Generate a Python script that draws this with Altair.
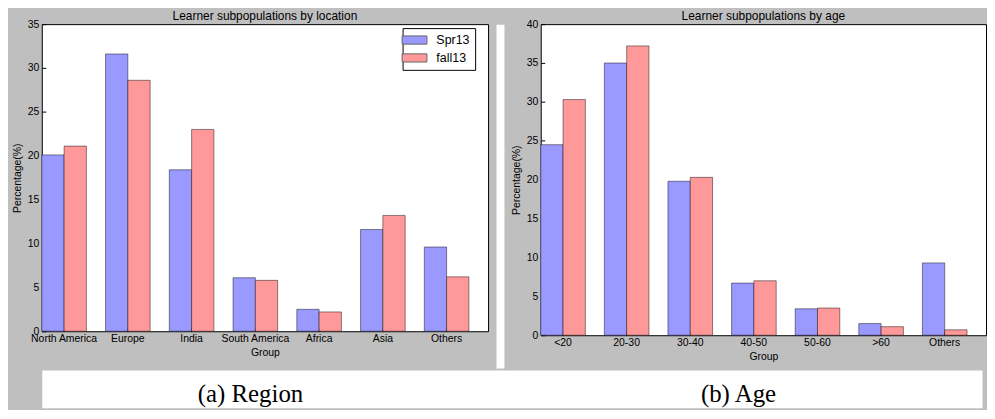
import altair as alt
import pandas as pd

loc_groups = ["North America", "Europe", "India", "South America", "Africa", "Asia", "Others"]
loc_spr13 = [20.1, 31.6, 18.4, 6.1, 2.5, 11.6, 9.6]
loc_fall13 = [21.1, 28.6, 23.0, 5.8, 2.2, 13.2, 6.2]

age_groups = ["<20", "20-30", "30-40", "40-50", "50-60", ">60", "Others"]
age_spr13 = [24.5, 35.0, 19.8, 6.7, 3.4, 1.5, 9.3]
age_fall13 = [30.3, 37.2, 20.3, 7.0, 3.5, 1.1, 0.7]

series = ["Spr13", "fall13"]
series_colors = ["#9999ff", "#ff9999"]
captions = ["(a) Region", "(b) Age"]
titles = ["Learner subpopulations by location", "Learner subpopulations by age"]

FONT = "Liberation Sans"


def panel(groups, spr, fall, title, ymax, w, h):
    df = pd.DataFrame({
        "group": list(groups) * 2,
        "series": [series[0]] * len(groups) + [series[1]] * len(groups),
        "value": list(spr) + list(fall),
    })
    xscale = alt.Scale(domain=groups, paddingInner=0.3, paddingOuter=0.15, align=0)
    yscale = alt.Scale(domain=[0, ymax], nice=False, zero=True)
    yvals = list(range(0, ymax + 1, 5))
    bars = alt.Chart(df).mark_bar(stroke="black", strokeOpacity=0.45, strokeWidth=1).encode(
        x=alt.X("group:N", scale=xscale,
                axis=alt.Axis(title="Group", orient="bottom", offset=-4, tickSize=4,
                              labelAngle=0, labelPadding=2, titlePadding=4)),
        xOffset=alt.XOffset("series:N", scale=alt.Scale(domain=series)),
        y=alt.Y("value:Q", scale=yscale,
                axis=alt.Axis(title="Percentage(%)", orient="left", offset=-4, tickSize=4,
                              values=yvals, labelPadding=3, titlePadding=5)),
        color=alt.Color("series:N", scale=alt.Scale(domain=series, range=series_colors),
                        legend=alt.Legend(title=None, orient="none", legendX=w - 86, legendY=4,
                                          padding=5,
                                          strokeColor="black", fillColor="white", cornerRadius=0,
                                          symbolType="M-2,-0.66H2V0.66H-2Z", symbolSize=156,
                                          symbolStrokeColor="#666666", symbolStrokeWidth=1,
                                          symbolOpacity=1, labelFontSize=12.5, labelFont=FONT,
                                          labelColor="black", labelOffset=15, rowPadding=4)),
    )
    return bars.properties(width=w, height=h, title=title)


left = panel(loc_groups, loc_spr13, loc_fall13, titles[0], 35, 449, 309)
right = panel(age_groups, age_spr13, age_fall13, titles[1], 40, 448, 313)

gap = alt.Chart(pd.DataFrame({"g": [0]})).mark_point(opacity=0, size=1).encode(
    x=alt.value(0), y=alt.value(0)
).properties(width=8, height=346, view=alt.ViewBackground(fill="white", stroke="transparent"))

cap = alt.Chart(pd.DataFrame({"caption": captions})).mark_text(
    font="Liberation Serif", fontSize=25, color="black", baseline="alphabetic", dy=13
).encode(
    x=alt.X("caption:N",
            scale=alt.Scale(type="point", domain=captions, padding=0.4633, align=0.4615),
            axis=None),
    text="caption:N",
).properties(width=946, height=38, view=alt.ViewBackground(fill="white", stroke="transparent"))

row1 = alt.hconcat(alt.hconcat(left, gap, spacing=6), right, spacing=5)
chart = alt.vconcat(row1, cap, spacing=0).properties(
    padding={"left": 3, "top": 0, "right": 0, "bottom": 0}
).configure(
    background="#bfbfbf"
).configure_view(
    stroke="black", fill="white", strokeWidth=1
).configure_axis(
    labelFont=FONT, titleFont=FONT, labelFontSize=10.5, titleFontSize=10.5,
    labelColor="black", titleColor="black", titleFontWeight="normal",
    tickColor="black", domain=False, grid=False
).configure_title(
    font=FONT, fontSize=12, fontWeight="normal", color="black", offset=-4, anchor="middle"
)

chart.save("out.html", embed_options={"renderer": "svg", "actions": False})
